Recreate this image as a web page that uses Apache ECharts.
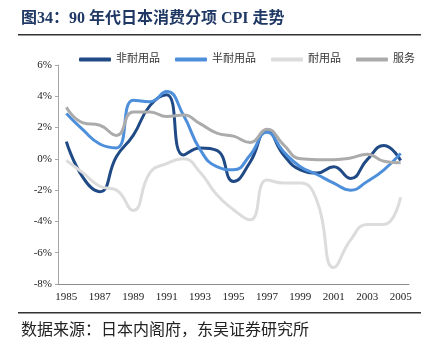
<!DOCTYPE html>
<html>
<head>
<meta charset="utf-8">
<script src="https://cdn.jsdelivr.net/npm/echarts@6/dist/echarts.min.js"></script>
<style>
  html, body { margin: 0; padding: 0; background: #fff; }
  #chart { width: 429px; height: 354px; }
</style>
</head>
<body>
<div id="chart"></div>
<script>
// 年份（类目）
const years = [];
for (let y = 1985; y <= 2005; y++) years.push(String(y));

// 各分项 CPI 同比（%）
const nonDurables = [1.1, -1.2, -2.1, 0.15, 1.5, 3.4, 4.1, 0.25, 0.7, 0.55, -1.45, -0.2, 1.8, 0.25, -0.7, -0.9, -0.5, -1.25, -0.05, 0.85, -0.1];
const semiDurables = [2.9, 1.85, 0.95, 0.7, 3.75, 3.65, 4.3, 2.8, 0.6, -0.5, -0.7, 0.25, 1.7, 0.45, -0.5, -1.0, -1.55, -2.0, -1.45, -0.7, 0.35];
const durables = [-0.1, -0.9, -1.75, -2.0, -3.3, -0.9, -0.3, 0.0, -0.85, -2.3, -3.25, -3.9, -1.35, -1.55, -1.55, -2.7, -6.95, -5.2, -4.2, -4.2, -2.45];
const services = [3.3, 2.3, 2.15, 1.5, 3.0, 3.0, 2.7, 2.8, 2.25, 1.65, 1.45, 1.05, 1.9, 0.9, 0.0, -0.05, -0.05, 0.05, 0.3, -0.15, -0.25];

const seriesNames = ['非耐用品', '半耐用品', '耐用品', '服务'];
const seriesColors = ['#1f4a85', '#4d8fdb', '#dcdcdc', '#ababab'];

const serif = 'Liberation Serif';
const mixed = '"Liberation Serif", "Noto Sans CJK SC", serif';

const chart = echarts.init(document.getElementById('chart'), null, { renderer: 'canvas' });

const makeLine = (name, data, i) => ({
  name,
  type: 'line',
  xAxisIndex: 0,
  data,
  smooth: 0.5,
  symbol: 'none',
  lineStyle: { width: 3, color: seriesColors[i] },
  itemStyle: { color: seriesColors[i] }
});

const option = {
  animation: false,
  graphic: [
    {
      type: 'text', left: 21, top: 11,
      style: { text: '图34：90 年代日本消费分项 CPI 走势', font: 'bold 16px ' + mixed, fill: '#1f3864' }
    },
    { type: 'rect', shape: { x: 18, y: 34, width: 403, height: 1.5 }, style: { fill: '#333' } },
    { type: 'rect', shape: { x: 18, y: 312, width: 403, height: 1.5 }, style: { fill: '#333' } },
    {
      type: 'text', left: 21, top: 323,
      style: { text: '数据来源：日本内阁府，东吴证券研究所', font: '16px ' + mixed, fill: '#222' }
    }
  ],
  legend: {
    data: seriesNames,
    left: 74,
    top: 49,
    icon: 'roundRect',
    itemWidth: 32,
    itemHeight: 4,
    itemGap: 15,
    textStyle: { fontSize: 11, color: '#333', fontFamily: mixed }
  },
  grid: { left: 58, right: 20, top: 65, bottom: 70 },
  xAxis: [
    {
      type: 'category',
      data: years,
      boundaryGap: true,
      axisLine: { show: false },
      axisTick: { show: false },
      axisLabel: { interval: 1, margin: 8, fontSize: 11, color: '#222', fontFamily: serif }
    },
    {
      type: 'category',
      data: years,
      boundaryGap: true,
      position: 'bottom',
      axisLine: { onZero: true, lineStyle: { color: '#8c8c8c', width: 1 } },
      axisTick: { inside: true, length: 4, interval: 1, lineStyle: { color: '#8c8c8c' } },
      axisLabel: { show: false }
    }
  ],
  yAxis: {
    type: 'value',
    min: -8,
    max: 6,
    interval: 2,
    splitLine: { show: false },
    axisLine: { show: true, lineStyle: { color: '#a6a6a6' } },
    axisTick: { show: true, length: 3, lineStyle: { color: '#a6a6a6' } },
    axisLabel: { formatter: '{value}%', fontSize: 11, color: '#222', fontFamily: serif, margin: 6 }
  },
  series: [
    makeLine(seriesNames[0], nonDurables, 0),
    makeLine(seriesNames[1], semiDurables, 1),
    makeLine(seriesNames[2], durables, 2),
    makeLine(seriesNames[3], services, 3)
  ]
};

chart.setOption(option);
</script>
</body>
</html>
